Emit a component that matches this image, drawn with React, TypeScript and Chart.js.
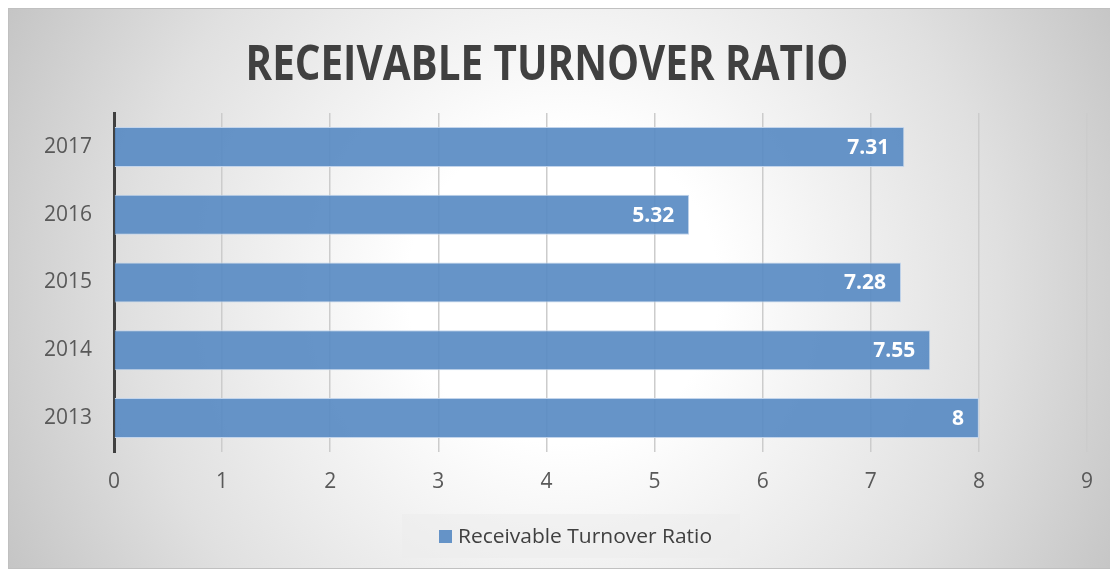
import React, { useEffect, useRef } from 'react';
import { Chart, registerables } from 'chart.js';

Chart.register(...registerables);

const years = ['2013', '2014', '2015', '2016', '2017'];
const ratios = [8, 7.55, 7.28, 5.32, 7.31];
const xMin = 0;
const xMax = 9;
const chartTitle = 'RECEIVABLE TURNOVER RATIO';
const seriesName = 'Receivable Turnover Ratio';

const FONT = "'Open Sans', sans-serif";
const BAR_FILL = 'rgba(89,139,195,0.92)';

const backgroundPlugin = {
  id: 'panelBackground',
  beforeDraw(chart: any) {
    const { ctx, width, height } = chart;
    ctx.save();
    const cx = 555, cy = 280;
    const r = Math.sqrt(cx * cx + cy * cy);
    const g = ctx.createRadialGradient(cx, cy, 0, cx, cy, r);
    g.addColorStop(0, '#ffffff');
    g.addColorStop(0.25, '#ffffff');
    g.addColorStop(0.7, '#e0e0e0');
    g.addColorStop(1, '#c5c5c5');
    ctx.fillStyle = g;
    ctx.fillRect(0, 0, width, height);
    ctx.strokeStyle = '#c0c0c0';
    ctx.lineWidth = 1;
    ctx.strokeRect(0.5, 0.5, width - 1, height - 1);
    ctx.restore();
  },
};

const decorPlugin = {
  id: 'decor',
  afterDraw(chart: any) {
    const { ctx } = chart;
    ctx.save();
    // data labels
    const meta = chart.getDatasetMeta(0);
    ctx.fillStyle = '#ffffff';
    ctx.font = `bold 21px ${FONT}`;
    ctx.textAlign = 'right';
    ctx.textBaseline = 'middle';
    meta.data.forEach((bar: any, i: number) => {
      ctx.fillText(String(ratios[i]), bar.x - 15, bar.y + 1);
    });

    // title
    ctx.font = `bold 48px ${FONT}`;
    ctx.fillStyle = '#404040';
    ctx.textAlign = 'left';
    ctx.textBaseline = 'alphabetic';
    const tw = ctx.measureText(chartTitle).width;
    const target = 603;
    const sx = target / tw;
    ctx.save();
    ctx.translate(539 - target / 2, 72);
    ctx.scale(sx, 1);
    ctx.fillText(chartTitle, 0, 0);
    ctx.restore();

    // legend
    ctx.fillStyle = 'rgba(236,236,236,0.5)';
    ctx.fillRect(394, 506, 338, 44);
    ctx.fillStyle = BAR_FILL;
    ctx.fillRect(431, 522, 13, 13);
    ctx.font = `20px ${FONT}`;
    ctx.fillStyle = '#404040';
    ctx.textAlign = 'left';
    ctx.textBaseline = 'alphabetic';
    const lw = ctx.measureText(seriesName).width;
    const ls = 254 / lw;
    ctx.save();
    ctx.translate(450, 535);
    ctx.scale(ls, 1);
    ctx.fillText(seriesName, 0, 0);
    ctx.restore();
    ctx.restore();
  },
};

export default function App() {
  const ref = useRef<HTMLCanvasElement | null>(null);
  useEffect(() => {
    if (!ref.current) return;
    const chart = new Chart(ref.current, {
      type: 'bar',
      data: {
        labels: years,
        datasets: [
          {
            label: seriesName,
            data: ratios,
            backgroundColor: BAR_FILL,
            borderColor: '#c3d5ec',
            borderWidth: 1,
            barPercentage: 0.59,
            categoryPercentage: 1,
          },
        ],
      },
      options: {
        indexAxis: 'y',
        animation: false,
        responsive: true,
        maintainAspectRatio: false,
        layout: { padding: { top: 105, right: 31, bottom: 67, left: 0 } },
        plugins: {
          legend: { display: false },
          title: { display: false },
          tooltip: { enabled: false },
        },
        scales: {
          x: {
            min: xMin,
            max: xMax,
            ticks: {
              stepSize: 1,
              color: '#595959',
              font: { family: FONT, size: 21 },
              padding: 17,
            },
            grid: { color: '#cccccc', lineWidth: 1.5, drawTicks: false },
            border: { display: false },
            afterFit(scale: any) {
              scale.height = 50;
            },
          },
          y: {
            reverse: true,
            ticks: {
              color: '#595959',
              font: { family: FONT, size: 21 },
              padding: 22,
            },
            grid: { display: false, drawTicks: false },
            border: { display: true, color: '#404040', width: 3 },
            afterFit(scale: any) {
              scale.width = 106;
            },
          },
        },
      },
      plugins: [backgroundPlugin, decorPlugin],
    });
    return () => chart.destroy();
  }, []);
  return (
    <div style={{ width: 1110, height: 561, position: 'relative' }}>
      <canvas ref={ref} />
    </div>
  );
}
